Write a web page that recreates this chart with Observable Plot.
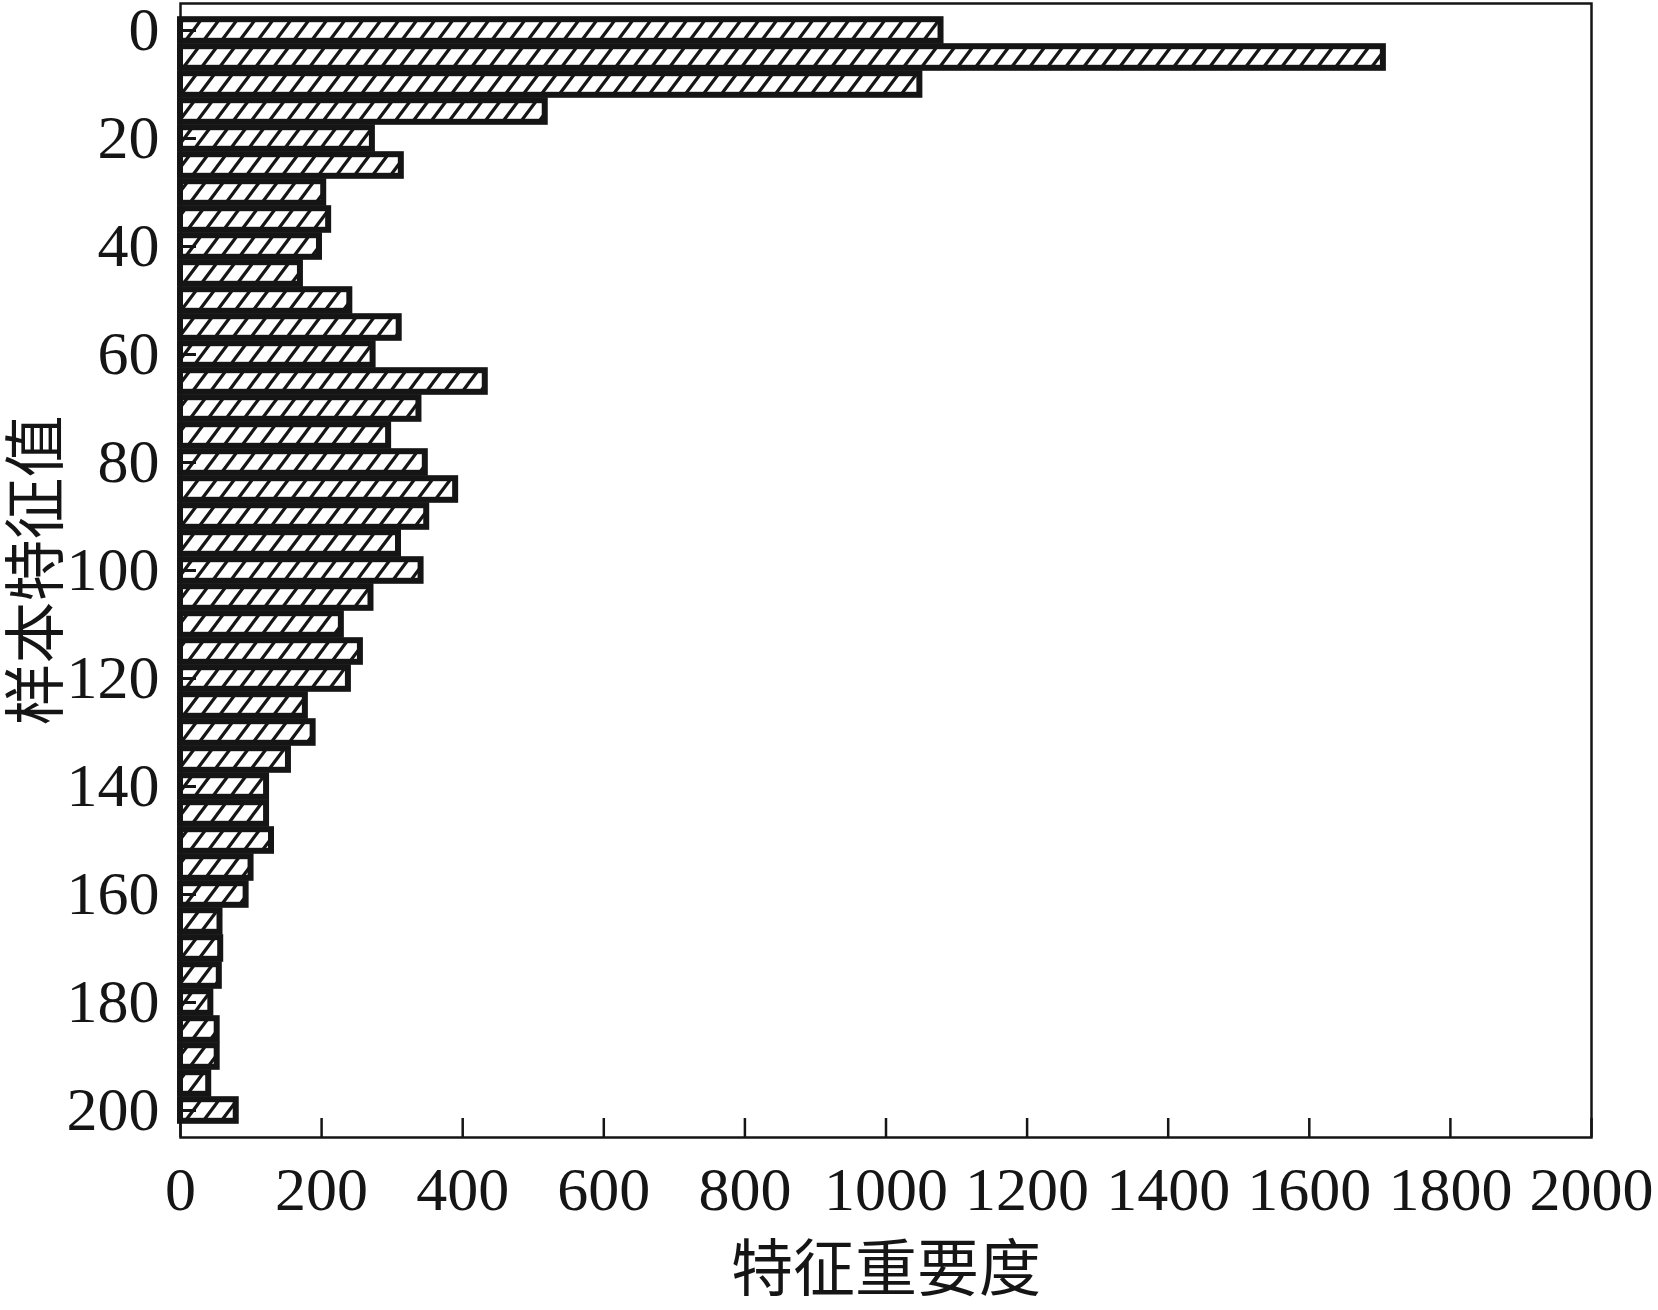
<!DOCTYPE html>
<html>
<head>
<meta charset="utf-8">
<script src="https://cdn.jsdelivr.net/npm/d3@7"></script>
<script src="https://cdn.jsdelivr.net/npm/@observablehq/plot@0.6"></script>
<style>
  html, body { margin: 0; padding: 0; background: #fff; }
</style>
</head>
<body>
<div id="chart"></div>
<script>
// Feature index (sample feature value) for each bar
const features = [0, 5, 10, 15, 20, 25, 30, 35, 40, 45, 50, 55, 60, 65, 70, 75, 80, 85, 90, 95,
  100, 105, 110, 115, 120, 125, 130, 135, 140, 145, 150, 155, 160, 165, 170, 175, 180, 185, 190, 195, 200];
// Feature importance
const importance = [1078, 1705, 1048, 517, 272, 313, 203, 210, 197, 170, 240, 310, 273, 432, 338, 295, 347, 390, 349, 309,
  341, 270, 228, 255, 238, 177, 188, 153, 122, 122, 129, 100, 93, 56, 57, 55, 43, 52, 52, 40, 79];
const xTicks = [0, 200, 400, 600, 800, 1000, 1200, 1400, 1600, 1800, 2000];
const yTicks = [0, 20, 40, 60, 80, 100, 120, 140, 160, 180, 200];
const xLabel = "特征重要度";
const yLabel = "样本特征值";

const data = features.map((f, i) => ({feature: f, importance: importance[i]}));
const ink = "#151515";

const plot = Plot.plot({
  width: 1658,
  height: 1310,
  marginLeft: 180,
  marginRight: 67,
  marginTop: 3,
  marginBottom: 173,
  style: {
    fontFamily: "'Liberation Serif', 'Noto Sans CJK SC', serif",
    fontSize: "62px",
    color: ink,
    background: "#fff"
  },
  x: {domain: [0, 2000]},
  y: {domain: [-5, 205], reverse: true},
  marks: [
    Plot.rectX(data, {
      x1: () => 0,
      x2: "importance",
      y1: d => d.feature - 2,
      y2: d => d.feature + 2,
      fill: "url(#hatch)",
      stroke: ink,
      strokeWidth: 6
    }),
    Plot.frame({stroke: ink, strokeWidth: 2.5}),
    Plot.axisX({
      ticks: xTicks,
      tickFormat: d => String(d),
      tickSize: -19,
      tickPadding: 47,
      strokeWidth: 2.5,
      label: xLabel,
      labelAnchor: "center",
      labelArrow: "none",
      labelOffset: 153
    }),
    Plot.axisY({
      ticks: yTicks,
      tickFormat: d => String(d),
      tickSize: -16,
      tickPadding: 37,
      strokeWidth: 3,
      label: yLabel,
      labelAnchor: "center",
      labelArrow: "none",
      labelOffset: 167
    })
  ]
});

const svg = plot.tagName.toLowerCase() === "svg" ? plot : plot.querySelector("svg");
const w = 18, h = 24;
const pat = d3.select(svg).insert("defs", ":first-child")
  .append("pattern")
  .attr("id", "hatch")
  .attr("patternUnits", "userSpaceOnUse")
  .attr("width", w)
  .attr("height", h);
pat.append("rect").attr("width", w).attr("height", h).attr("fill", "#fff");
pat.append("path")
  .attr("d", `M${-w/2},${h/2}L${w/2},${-h/2}M${-w/4},${h*5/4}L${w*5/4},${-h/4}M${w/2},${h*3/2}L${w*3/2},${h/2}`)
  .attr("stroke", ink)
  .attr("stroke-width", 3.2)
  .attr("fill", "none");

document.getElementById("chart").appendChild(plot);
</script>
</body>
</html>
